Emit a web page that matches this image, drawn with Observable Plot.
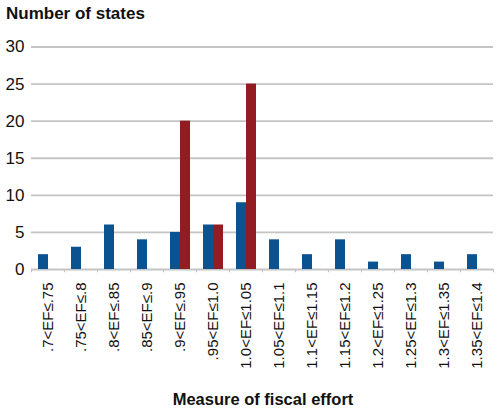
<!DOCTYPE html>
<html>
<head>
<meta charset="utf-8">
<script src="https://cdn.jsdelivr.net/npm/d3@7"></script>
<script src="https://cdn.jsdelivr.net/npm/@observablehq/plot@0.6"></script>
<style>
  html, body { margin: 0; padding: 0; background: #fff; }
  #wrap { position: relative; width: 504px; height: 413px; font-family: "Liberation Sans", Arial, sans-serif; }
  #title { position: absolute; left: 6px; top: 3px; font-size: 17px; font-weight: bold; color: #111; line-height: 22px; }
  #xlabel { position: absolute; left: 0; width: 526px; text-align: center; top: 388px; font-size: 16.5px; font-weight: bold; color: #111; line-height: 22px; }
  svg { display: block; }
</style>
</head>
<body>
<div id="wrap">
  <div id="chart"></div>
  <div id="title">Number of states</div>
  <div id="xlabel">Measure of fiscal effort</div>
</div>
<script>
const categories = [".7<EF≤.75", ".75<EF≤.8", ".8<EF≤.85", ".85<EF≤.9", ".9<EF≤.95", ".95<EF≤1.0", "1.0<EF≤1.05", "1.05<EF≤1.1", "1.1<EF≤1.15", "1.15<EF≤1.2", "1.2<EF≤1.25", "1.25<EF≤1.3", "1.3<EF≤1.35", "1.35<EF≤1.4"];
const blueValues = [2, 3, 6, 4, 5, 6, 9, 4, 2, 4, 1, 2, 1, 2];
const redValues  = [0, 0, 0, 0, 20, 6, 25, 0, 0, 0, 0, 0, 0, 0];
const yTicks = [0, 5, 10, 15, 20, 25, 30];

const blueData = categories.map((c, i) => ({cat: c, v: blueValues[i]})).filter(d => d.v > 0);
const redData  = categories.map((c, i) => ({cat: c, v: redValues[i]})).filter(d => d.v > 0);

const chart = Plot.plot({
  width: 504,
  height: 413,
  marginLeft: 31,
  marginRight: 11,
  marginTop: 46.5,
  marginBottom: 144,
  style: {fontFamily: "Liberation Sans, Arial, sans-serif", color: "#111", background: "#fff"},
  x: {domain: categories, padding: 0, label: null, tickSize: 0, tickPadding: 13, tickRotate: -90, fontSize: 15},
  y: {domain: [0, 30], ticks: yTicks, label: null, tickSize: 0, tickPadding: 7},
  marks: [
    Plot.ruleY(yTicks, {stroke: "#c4c4c4", strokeWidth: 1.8}),
    Plot.ruleX(categories, {x: d => d, dx: -16.5, y1: 0, y2: -0.45, stroke: "#c4c4c4", strokeWidth: 1.2}),
    Plot.ruleX(categories.slice(-1), {x: d => d, dx: 16.5, y1: 0, y2: -0.45, stroke: "#c4c4c4", strokeWidth: 1.2}),
    Plot.barY(blueData, {x: "cat", y: "v", fill: "#0a5390", insetLeft: 7, insetRight: 16}),
    Plot.barY(redData, {x: "cat", y: "v", fill: "#931c22", insetLeft: 17, insetRight: 6})
  ]
});
chart.querySelectorAll('[aria-label="y-axis tick label"] text').forEach(t => t.setAttribute("font-size", "17"));
chart.querySelectorAll('[aria-label="y-axis tick label"]').forEach(g => g.setAttribute("font-size", "17"));
chart.querySelectorAll('[aria-label="x-axis tick label"]').forEach(g => g.setAttribute("font-size", "15"));
document.getElementById("chart").appendChild(chart);
</script>
</body>
</html>
